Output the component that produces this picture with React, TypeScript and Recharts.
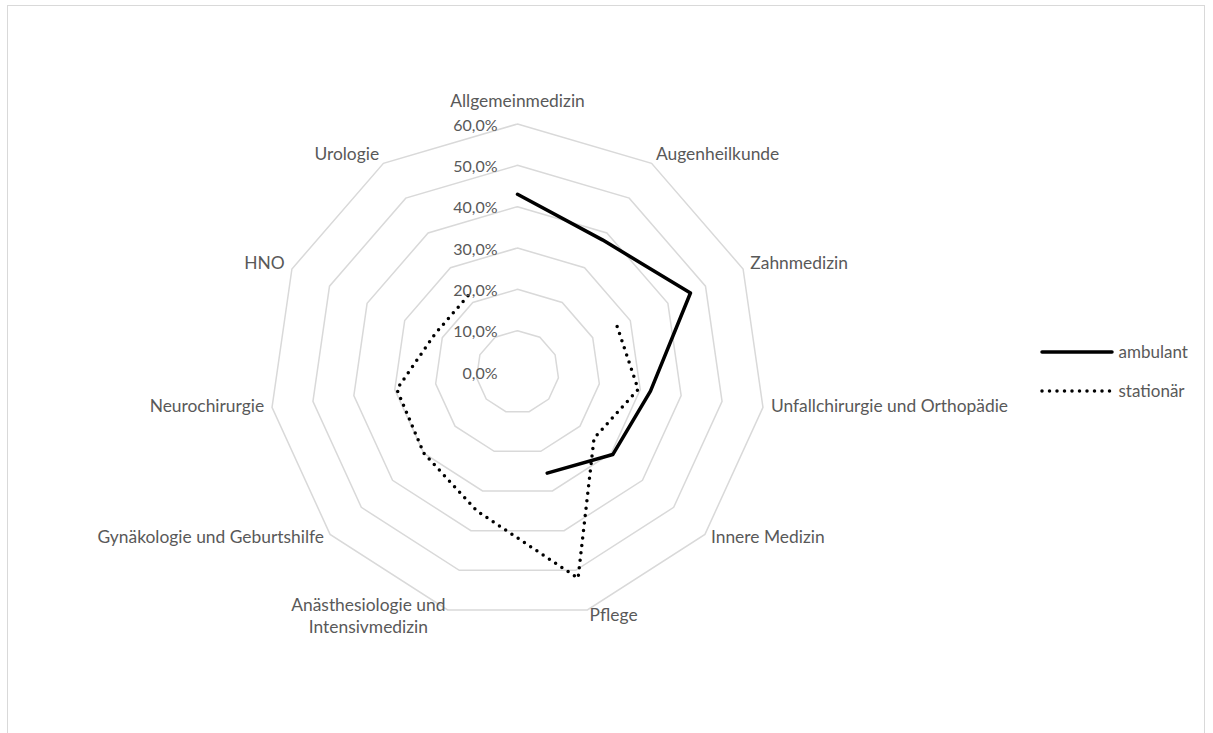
import { Legend, PolarAngleAxis, PolarGrid, PolarRadiusAxis, Radar, RadarChart } from 'recharts'

const categories = [
  'Allgemeinmedizin',
  'Augenheilkunde',
  'Zahnmedizin',
  'Unfallchirurgie und Orthopädie',
  'Innere Medizin',
  'Pflege',
  'Anästhesiologie und Intensivmedizin',
  'Gynäkologie und Geburtshilfe',
  'Neurochirurgie',
  'HNO',
  'Urologie',
]

// Anteile in Prozent, null = keine Angabe
const ambulant = [43, 38, 46, 32.5, 30.5, 25.5, null, null, null, null, null]
const stationaer = [null, null, 26.5, 29.5, 24.5, 52, 35, 30, 29.5, 22, 22]

const radiusMax = 60
const radiusTickCount = 7

const series = [
  { key: 'ambulant', values: ambulant, dash: undefined as string | undefined },
  { key: 'stationär', values: stationaer, dash: '0 7.5' },
]

const data = categories.map((name, i) => {
  const row: Record<string, string | number | null> = { name }
  series.forEach((s) => {
    row[s.key] = s.values[i]
  })
  return row
})

const TEXT = '#595959'
const GRID = '#d9d9d9'
const FONT = 'Lato, "Open Sans", sans-serif'

const pct = (v: number) => `${v.toFixed(1).replace('.', ',')}%`

// offene Linie: Lücken bei null, kein Schließen des Polygons
function OpenLine(props: any) {
  const { points, stroke, strokeWidth, strokeDasharray } = props
  let d = ''
  let pen = false
  for (const p of points ?? []) {
    const ok = p.value != null && Number.isFinite(p.x) && Number.isFinite(p.y)
    if (ok) {
      d += `${pen ? 'L' : 'M'}${p.x},${p.y}`
      pen = true
    } else {
      pen = false
    }
  }
  return (
    <path
      d={d}
      fill="none"
      stroke={stroke}
      strokeWidth={strokeWidth}
      strokeDasharray={strokeDasharray}
      strokeLinecap="round"
      strokeLinejoin="round"
    />
  )
}

function CategoryTick(props: any) {
  const { x, y, textAnchor, payload } = props
  const label = String(payload.value)
  const style = { fill: TEXT, fontSize: 17.4, fontFamily: FONT }
  if (label.length > 32) {
    const words = label.split(' ')
    const lines = [words.slice(0, -1).join(' '), words[words.length - 1]]
    const cx = x - 77
    return (
      <g>
        {lines.map((line, i) => (
          <text key={i} x={cx} y={y - 13 + i * 21.7} textAnchor="middle" dominantBaseline="central" {...style}>
            {line}
          </text>
        ))}
      </g>
    )
  }
  const dy = textAnchor === 'middle' ? -16 : -3
  return (
    <text x={x} y={y + dy} textAnchor={textAnchor} dominantBaseline="central" {...style}>
      {label}
    </text>
  )
}

function ValueTick(props: any) {
  const { x, y, payload } = props
  return (
    <text x={x - 20} y={y} textAnchor="end" dominantBaseline="central" fill={TEXT} fontSize={16} fontFamily={FONT}>
      {pct(Number(payload.value))}
    </text>
  )
}

function LineLegend(props: any) {
  const { payload } = props
  return (
    <div>
      {(payload ?? []).map((entry: any) => {
        const s = series.find((it) => it.key === entry.dataKey || it.key === entry.value)
        return (
          <div key={entry.value} style={{ display: 'flex', alignItems: 'center', height: 39.3 }}>
            <svg width={76} height={10}>
              <line
                x1={3}
                y1={5}
                x2={73}
                y2={5}
                stroke="#000"
                strokeWidth={3.5}
                strokeDasharray={s?.dash}
                strokeLinecap="round"
              />
            </svg>
            <span style={{ marginLeft: 3.5, color: TEXT, fontSize: 17, fontFamily: FONT }}>{entry.value}</span>
          </div>
        )
      })}
    </div>
  )
}

export default function App() {
  return (
    <div
      style={{
        position: 'fixed',
        left: 7,
        top: 5,
        width: 1196,
        height: 740,
        border: `1.5px solid ${GRID}`,
        fontFamily: FONT,
        background: '#fff',
      }}
    >
      <RadarChart
        width={1196}
        height={727}
        data={data}
        cx={509.5}
        cy={366}
        outerRadius={248}
        margin={{ top: 0, right: 0, bottom: 0, left: 0 }}
      >
        <PolarGrid gridType="polygon" radialLines={false} stroke={GRID} strokeWidth={1.5} />
        <PolarAngleAxis dataKey="name" axisLine={false} tickLine={false} tick={<CategoryTick />} />
        <PolarRadiusAxis
          type="number"
          angle={90}
          domain={[0, radiusMax]}
          tickCount={radiusTickCount}
          axisLine={false}
          tickLine={false}
          tick={<ValueTick />}
        />
        {series.map((s) => (
          <Radar
            key={s.key}
            name={s.key}
            dataKey={s.key}
            stroke="#000"
            strokeWidth={3.5}
            strokeDasharray={s.dash}
            fill="none"
            dot={false}
            shape={<OpenLine />}
            isAnimationActive={false}
          />
        ))}
        <Legend
          layout="vertical"
          align="right"
          verticalAlign="middle"
          content={<LineLegend />}
          wrapperStyle={{ left: 1031, top: 326, right: undefined, width: 170 }}
        />
      </RadarChart>
    </div>
  )
}
